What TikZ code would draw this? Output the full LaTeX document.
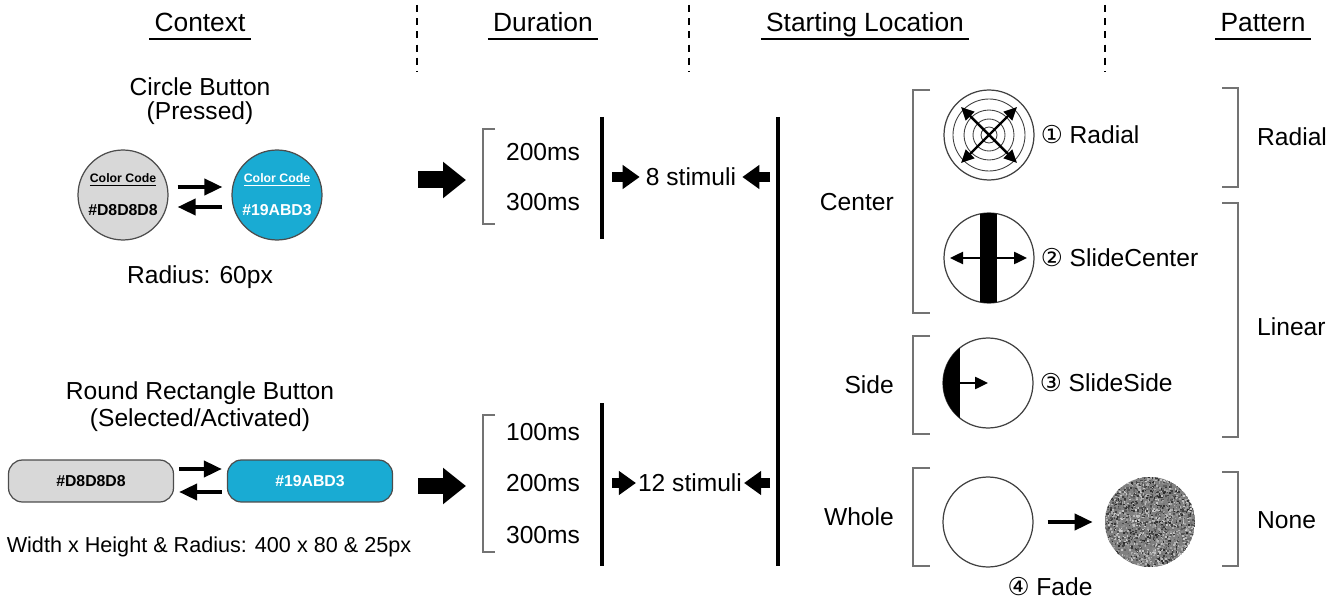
\documentclass[tikz,border=0pt]{standalone}
\usepackage{fontspec}
\setmainfont{Liberation Sans}
\newfontfamily\circfont{DejaVu Sans}
\usetikzlibrary{arrows.meta,calc,positioning}
\definecolor{btngray}{HTML}{D8D8D8}
\definecolor{btnblue}{HTML}{19ABD3}

\begin{document}
\begin{tikzpicture}[x=0.02cm,y=-0.02cm,font=\fontsize{14}{16.8}\selectfont]
    % `header' and `uline' are the column titles and their underlines.
    % `roundbtn' and `rectbtn' are the two button kinds.
    % `patcircle' is used for the four pattern pictograms.
    \tikzstyle{header} = [inner xsep=0.1cm,font=\fontsize{15}{18}\selectfont]
    \tikzstyle{uline} = [line width=1.3pt]
    \tikzstyle{colsep} = [dash pattern=on 4pt off 3.5pt,line width=0.6pt]
    \tikzstyle{roundbtn} = [draw=black!70,circle,minimum size=1.8cm,inner sep=0pt,line width=0.7pt,align=center]
    \tikzstyle{rectbtn} = [draw=black!70,rounded corners=0.28cm,minimum width=3.3cm,minimum height=0.84cm,line width=0.7pt,font=\fontsize{9}{10}\selectfont\bfseries]
    \tikzstyle{togglearrow} = [line width=2.2pt,-{Triangle[length=0.36cm,width=0.32cm]}]
    \tikzstyle{bigarrow} = [line width=0.34cm,-{Triangle[length=0.46cm,width=0.7cm]}]
    \tikzstyle{smallarrow} = [line width=0.2cm,-{Triangle[length=0.34cm,width=0.46cm]}]
    \tikzstyle{vbar} = [line width=2.5pt]
    \tikzstyle{brk} = [draw=black!55,line width=0.7pt]
    \tikzstyle{patcircle} = [draw=black!75,circle,minimum size=1.8cm,inner sep=0pt,line width=0.7pt]
    \tikzstyle{motion} = [line width=1.4pt,{Triangle[length=0.26cm,width=0.24cm]}-{Triangle[length=0.26cm,width=0.24cm]}]
    %
    \useasboundingbox (0,0) rectangle (1326,601);

    % Column titles and separators.
    \node[header,anchor=base] (hCtx) at (200,32) {Context};
    \node[header,anchor=base] (hDur) at (543,32) {Duration};
    \node[header,anchor=base] (hLoc) at (865,32) {Starting Location};
    \node[header,anchor=base] (hPat) at (1263,32) {Pattern};
    \foreach \h in {hCtx,hDur,hLoc,hPat}
      \draw[uline] (\h.west |- 0,39) -- (\h.east |- 0,39);
    \foreach \x in {417,689,1105}
      \draw[colsep] (\x,5) -- (\x,72);

    % Circle button.
    \node (cbTitle) at (200,87) {Circle Button};
    \node (cbState) at (200,113) {(Pressed)};
    \node[roundbtn,fill=btngray] (cbGray) at (123,195)
      {\fontsize{7}{8}\selectfont\bfseries\underline{Color Code}\\[2pt]\fontsize{9}{10}\selectfont\bfseries\#D8D8D8};
    \node[roundbtn,fill=btnblue,text=white] (cbBlue) at (277,195)
      {\fontsize{7}{8}\selectfont\bfseries\underline{Color Code}\\[2pt]\fontsize{9}{10}\selectfont\bfseries\#19ABD3};
    \draw[togglearrow] ([shift={(9,-8)}]cbGray.east) -- ([shift={(-9,-8)}]cbBlue.west);
    \draw[togglearrow] ([shift={(-9,12)}]cbBlue.west) -- ([shift={(9,12)}]cbGray.east);
    \node (cbRadius) at (200,277) {Radius: 60px};

    % Round rectangle button.
    \node (rbTitle) at (200,393) {Round Rectangle Button};
    \node (rbState) at (200,420) {(Selected/Activated)};
    \node[rectbtn,fill=btngray] (rbGray) at (91,481) {\#D8D8D8};
    \node[rectbtn,fill=btnblue,text=white] (rbBlue) at (310,481) {\#19ABD3};
    \draw[togglearrow] ([shift={(5,-12)}]rbGray.east) -- ([shift={(-5,-12)}]rbBlue.west);
    \draw[togglearrow] ([shift={(-5,11)}]rbBlue.west) -- ([shift={(5,11)}]rbGray.east);
    \node[font=\fontsize{12.3}{14}\selectfont] (rbSize) at (209,547) {Width x Height \& Radius: 400 x 80 \& 25px};

    % Durations.
    \coordinate (inTop) at (418,180);
    \coordinate (inBot) at (418,486);
    \draw[bigarrow] (inTop) -- ++(48,0);
    \draw[bigarrow] (inBot) -- ++(48,0);
    \draw[brk] (495,129) -- (483,129) -- (483,224) -- (495,224);
    \draw[brk] (495,415) -- (483,415) -- (483,552) -- (495,552);
    \node (dTopA) at (543,152) {200ms};
    \node (dTopB) at (543,202) {300ms};
    \node (dBotA) at (543,432) {100ms};
    \node (dBotB) at (543,483) {200ms};
    \node (dBotC) at (543,535) {300ms};
    \draw[vbar] (602,117) -- (602,239);
    \draw[vbar] (602,403) -- (602,566);
    \draw[vbar] (778,117) -- (778,566);

    % Stimuli counts.
    \node (st8) at (691,177) {8 stimuli};
    \node[inner xsep=1pt] (st12) at (690,483) {12 stimuli};
    \draw[smallarrow] (612,177) -- (st8.west);
    \draw[smallarrow] (770,177) -- (st8.east);
    \draw[smallarrow] (612,483) -- (st12.west);
    \draw[smallarrow] (770,483) -- (st12.east);

    % Starting locations.
    \node[anchor=east] (lCenter) at (900,202) {Center};
    \node[anchor=east] (lSide) at (900,385) {Side};
    \node[anchor=east] (lWhole) at (900,517) {Whole};
    \draw[brk] (930,90) -- (913,90) -- (913,313) -- (930,313);
    \draw[brk] (930,336) -- (913,336) -- (913,434) -- (930,434);
    \draw[brk] (930,468) -- (913,468) -- (913,566) -- (930,566);

    % Patterns.
    \draw[brk] (1222,88) -- (1238,88) -- (1238,187) -- (1222,187);
    \draw[brk] (1222,203) -- (1238,203) -- (1238,437) -- (1222,437);
    \draw[brk] (1222,472) -- (1238,472) -- (1238,566) -- (1222,566);
    \node[anchor=west] (tRadial) at (1251,137) {Radial};
    \node[anchor=west] (tLinear) at (1251,327) {Linear};
    \node[anchor=west] (tNone) at (1251,520) {None};

    % (1) Radial
    \node[patcircle] (pRadial) at (989,135) {};
    \foreach \r in {8,16,25,36}
      \draw[black!75,line width=0.5pt] (pRadial.center) circle[radius=\r];
    \draw[motion] ([shift={(-28,-28)}]pRadial.center) -- ([shift={(28,28)}]pRadial.center);
    \draw[motion] ([shift={(-28,28)}]pRadial.center) -- ([shift={(28,-28)}]pRadial.center);
    \node[right=0pt of pRadial] (lblRadial) {{\circfont ①} Radial};

    % (2) SlideCenter
    \node[patcircle] (pSlideC) at (989,258) {};
    \begin{scope}
      \clip (pSlideC.center) circle[radius=45];
      \fill ($(pSlideC.center)+(-9,-50)$) rectangle ($(pSlideC.center)+(8,50)$);
    \end{scope}
    \draw[motion] ([shift={(-39,0)}]pSlideC.center) -- ([shift={(38,0)}]pSlideC.center);
    \node[right=0pt of pSlideC] (lblSlideC) {{\circfont ②} SlideCenter};

    % (3) SlideSide
    \node[patcircle] (pSlideS) at (988,383) {};
    \begin{scope}
      \clip (pSlideS.center) circle[radius=45];
      \fill ($(pSlideS.center)+(-50,-50)$) rectangle ($(pSlideS.center)+(-28,50)$);
    \end{scope}
    \draw[line width=1.4pt,-{Triangle[length=0.26cm,width=0.24cm]}] ([shift={(-28,0)}]pSlideS.center) -- (pSlideS.center);
    \node[right=0pt of pSlideS] (lblSlideS) {{\circfont ③} SlideSide};

    % (4) Fade
    \node[patcircle] (pFadeA) at (988,522) {};
    \node[circle,minimum size=1.8cm,inner sep=0pt] (pFadeB) at (1150,522) {};
    \begin{scope}
      \clip (pFadeB.center) circle[radius=45];
      \fill[black!50] (pFadeB.center) circle[radius=45];
      \pgfmathsetseed{42}
      \foreach \k in {1,...,2600}{
        \pgfmathsetmacro{\nx}{46*rand}
        \pgfmathsetmacro{\ny}{46*rand}
        \pgfmathtruncatemacro{\nv}{20+65*rnd}
        \fill[black!\nv] ($(pFadeB.center)+(\nx,\ny)$) rectangle ++(1.7,1.7);
      }
    \end{scope}
    \draw[togglearrow,shorten <=0.28cm,shorten >=0.24cm] (pFadeA) -- (pFadeB);
    \node (lblFade) at (1050,587) {{\circfont ④} Fade};
\end{tikzpicture}
\end{document}
